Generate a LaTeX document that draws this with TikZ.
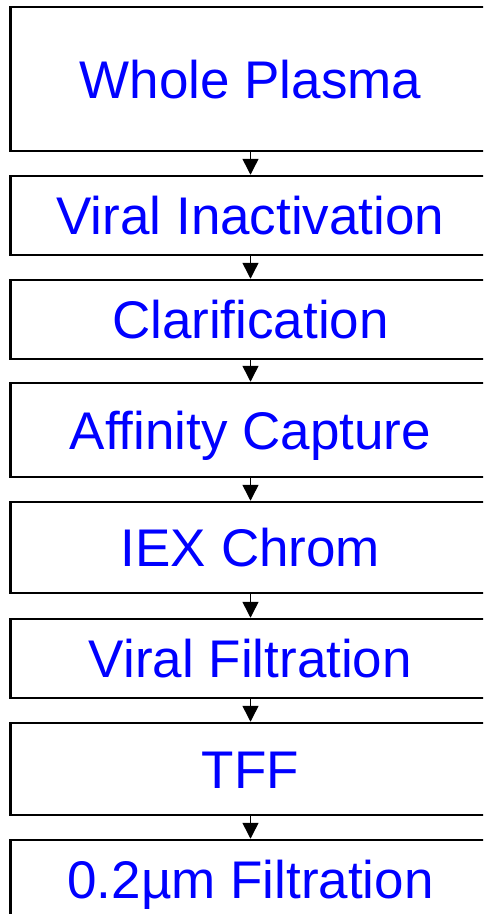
\documentclass[tikz,border=0pt]{standalone}
\usepackage{fontspec}
\setmainfont{Liberation Sans}
\usetikzlibrary{arrows.meta}
\begin{document}
\begin{tikzpicture}[x=1pt,y=-1pt]
\tikzstyle{stepbox}=[draw=black, line width=2.5pt, minimum width=480pt, inner sep=0pt, text height=38pt, text depth=0pt, text=blue, font=\fontsize{53}{60}\selectfont]
\tikzstyle{flow}=[line width=1.5pt, -{Triangle[length=16pt,width=16pt]}]
\useasboundingbox (0,0) rectangle (483,914);
\clip (0,0) rectangle (483,914);
\node [stepbox, minimum height=144pt] (plasma) at (250.5,79) {Whole Plasma};
\node [stepbox, minimum height=79pt] (inact) at (250.5,215.5) {Viral Inactivation};
\node [stepbox, minimum height=79pt] (clar) at (250.5,319.5) {Clarification};
\node [stepbox, minimum height=94pt] (capt) at (250.5,430) {Affinity Capture};
\node [stepbox, minimum height=91pt] (iex) at (250.5,547.5) {IEX Chrom};
\node [stepbox, minimum height=79pt] (vfilt) at (250.5,658.5) {Viral Filtration};
\node [stepbox, minimum height=92pt] (tff) at (250.5,769) {TFF};
\node [stepbox, minimum height=79pt] (sfilt) at (250.5,879.5) {0.2µm Filtration};
\draw [flow] (plasma) -- (inact);
\draw [flow] (inact) -- (clar);
\draw [flow] (clar) -- (capt);
\draw [flow] (capt) -- (iex);
\draw [flow] (iex) -- (vfilt);
\draw [flow] (vfilt) -- (tff);
\draw [flow] (tff) -- (sfilt);
\end{tikzpicture}
\end{document}
